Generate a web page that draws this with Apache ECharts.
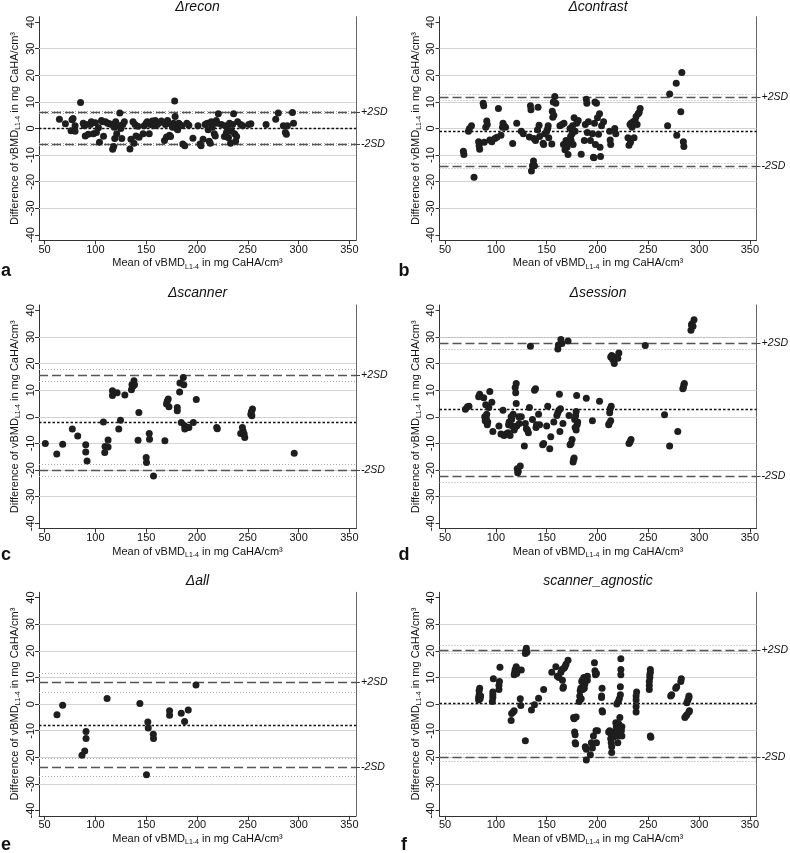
<!DOCTYPE html>
<html>
<head>
<meta charset="utf-8">
<script src="https://cdn.jsdelivr.net/npm/echarts@6/dist/echarts.min.js"></script>
<style>
html,body{margin:0;padding:0;background:#fff;}
#chart{width:790px;height:853px;}
</style>
</head>
<body>
<div id="chart"></div>
<script>
// ---------- tick labels / shared ----------
const xTickVals = [50, 100, 150, 200, 250, 300, 350];
const yTickVals = [-40, -30, -20, -10, 0, 10, 20, 30, 40];
const gridVals = [-30, -20, -10, 0, 10, 20, 30];
const panelTitles = ['\u0394recon', '\u0394contrast', '\u0394scanner', '\u0394session', '\u0394all', 'scanner_agnostic'];
const panelLetters = ['a', 'b', 'c', 'd', 'e', 'f'];
const limitLabels = ['+2SD', '-2SD'];

// ---------- panel a: Δrecon ----------
const reconMean = 0.2;
const reconLoA = [-5.9, 6.0];
const reconCI = [-6.2, -5.6, 5.7, 6.3];
const reconPts = [
[64.6,3.5],[70.5,1.8],[76,-0.8],[77,3.3],[78,3.8],[80,1],[80,-1],[85.4,9.8],[88,2],[89,1],[90,-2.8],[91,1.5],[93,-2.2],[95,1.5],[96,2.5],[98,-2],[100,2.2],[101,-1.5],[103,0.3],[104,-5.2],[106,3],[107,2.5],[108,-2.9],[110,2.5],[112,2],[114,1.8],[116,1.5],[117,-7.8],[118,-6.8],[118.5,0.5],[119,-3.8],[120,2.5],[121,-2],[122,1],[123,1],[124,5.8],[125,0],[126,-3.8],[127,1.5],[128.5,2.5],[134,-7.7],[135,-4],[137,2.5],[138,-5.5],[139,1.5],[140,-2.8],[141.7,0.8],[143,-3.3],[147,-2],[148,1],[150,2],[151,2.5],[153,-2],[154,1.5],[156,2.8],[157,2],[158,1],[159,3],[161,1.5],[163,2.2],[165,2.8],[168,-4.5],[169,1.5],[170,-3.2],[171,3],[172,2],[173,-2.5],[174,-3],[175,1.5],[176,0.5],[177,2],[178,10.3],[178.5,4.5],[179,1],[180,0],[181,-0.5],[182,2],[183,1.5],[185,1],[186,-5.8],[188,-6.5],[190,2],[192,1.2],[196,-3.7],[201,1],[203,-5.8],[204,-6.5],[206,-4],[208,1.5],[210,2],[211,-0.5],[212,-4.8],[213,-5.5],[214,2.5],[215,0.5],[217,-2],[218,-2.8],[219,3],[220,2],[221,5.5],[224,1.5],[227,-3],[228,1],[229,-1.5],[230,0],[231,-3.5],[232,2],[233,-5.5],[234,-1],[235,1.5],[236,5.5],[237,-2],[238,-4.8],[239,-3],[240,2.5],[243,1.5],[245,1],[251,1.5],[253,1.8],[268,1.5],[277.5,3.5],[280,5.8],[285,1],[287,-1.5],[288,-2.2],[289,1],[294,6],[295,2]
];

// ---------- panel b: Δcontrast ----------
const contrastMean = -1.2;
const contrastLoA = [-14.0, 11.7];
const contrastCI = [-15.0, -12.9, 10.6, 12.8];
const contrastPts = [
[68,-8.5],[68.5,-9.8],[73,-1],[74,0],[76,1],[78.5,-18.3],[83,-5],[83.5,-6.5],[84,-7.8],[87.5,9.5],[88,8.5],[88.5,-5.2],[90,0.5],[91,2.8],[91.5,1.5],[94,-4.3],[96,-5],[99,-3.8],[101,-3.3],[102.5,7.5],[105,-2.5],[106.5,0.5],[107,2],[108,1],[109.5,0.5],[116.5,-5.6],[120.5,2],[125,-1],[127,-2],[133,-3.2],[134,8.5],[134.5,7],[135,-16],[136,-14],[137,-12.2],[137.5,-3.8],[138,-14],[139,-4.5],[141,-0.5],[141.5,8],[142.5,1.2],[143,-3],[146.5,-5.5],[147,-6],[148,-2],[150,-1],[151,0],[151.5,1],[152,-3.5],[155,-5.8],[155.5,6.5],[156,4.2],[156.5,10],[157,5],[158,12],[159,9.5],[163,1],[165,1.5],[166.5,-6],[167,2],[168,-8],[169,-4.5],[170,-7],[171,-9.8],[172,-5],[173,0],[173.5,-3],[174,-4.5],[175,-2],[175.5,1],[176,-6],[177,4],[178,-1],[179.5,2],[181,3],[184,-9.7],[187,-4.5],[188,1.5],[189,11],[189.5,9.5],[190,-1.5],[191,2.5],[193,-4.5],[195,-2],[196,-10.8],[196.5,-11],[197,2],[197.5,10],[198,-6],[199,9.5],[200,4],[201,-2.2],[202,5.5],[202.5,-7],[203,-10.5],[204,1],[206,2.5],[212,-1],[212.5,-4.3],[213,-6],[217,0],[218,-2],[230,-3.5],[231,-6.3],[232,1.5],[232.5,-5.2],[233,2],[234,0.5],[235,2.5],[236,-3.5],[237,3],[238,4.5],[239,1.5],[240,5.5],[241,6],[242,7.5],[269,1],[271,13],[277.5,17],[278,-2.5],[282,6.3],[283,21],[284.5,-5],[285,-6.8]
];

// ---------- panel c: Δscanner ----------
const scannerMean = -2.1;
const scannerLoA = [-20.1, 15.7];
const scannerCI = [-22.4, -17.8, 13.5, 18.0];
const scannerPts = [
[50.7,-10],[62,-14],[67.8,-10.3],[77.3,-4.6],[82.6,-7.2],[90.5,-10.5],[90.5,-13.2],[91.8,-16.6],[107.9,-2],[109.5,-11.2],[109.2,-13.4],[112.5,-8.7],[112.5,-11.3],[116.8,9.8],[116.8,8],[121.4,9],[123,-4.6],[124.7,-1.3],[129,8.2],[135.5,10.2],[136,12],[137,11.5],[138,13.5],[138.5,12],[142.8,1.6],[142,-8.8],[150,-15.3],[150.3,-17.2],[153,-6.3],[153.3,-8.4],[157.2,-22.2],[168.4,-9],[170,4.8],[170.7,5.8],[171.7,6.7],[172.4,3.8],[180.6,2.3],[180.6,3.5],[182.9,9.3],[183.2,12.7],[184.5,-2.1],[186.5,14.8],[187,12],[187.8,-3.4],[188,-4.6],[190.5,-4],[192,-4],[196.4,-2.1],[199.3,6.5],[219.4,-4],[220,-4.5],[243,-6.3],[244.7,-4],[245.4,-5.3],[246.4,-6.5],[247,-7.8],[253,1],[253.6,2],[254.6,2.9],[254,0.4],[295.7,-13.7]
];

// ---------- panel d: Δsession ----------
const sessionMean = 2.7;
const sessionLoA = [-22.2, 27.6];
const sessionCI = [-24.5, -20.0, 25.4, 29.9];
const sessionPts = [
[70,2.8],[72,3.8],[73.5,4],[83,7.5],[84,8.5],[88,7.2],[89,0],[89.5,-1.5],[90,4.5],[90.5,-0.5],[91,1],[91.5,-3],[92,-2],[93,3.5],[94,9.5],[96,5.5],[97,-5.5],[103,-3.5],[105,-6.5],[107,2.5],[108,-7],[110,-6.5],[112,-6],[112.5,-3],[113,-2],[114,-7],[115,0],[115.5,-1],[116,-3.5],[117,1],[118,-5],[118.5,-4],[119,11],[119.5,9],[120,12.5],[120,5],[120.5,-3.5],[121,-19.5],[121.5,-21],[122,-20.5],[122.5,0],[123,-2.5],[124,-18.5],[125,0],[128,-11],[129,-2.5],[130,-4.5],[131,-5],[132,-6],[133,3.5],[134,26.5],[136,-1],[138,10],[139,10.5],[139.5,-4],[140,-3],[142,1],[143,-3],[146,-10.5],[147,-10],[150,-3.5],[151,4],[153,-12],[154,-7.5],[157,-2],[160,0.5],[161,25.5],[161,1.5],[161.5,27],[162,2.5],[162.5,8.5],[163,-5.5],[163.5,3],[164,29],[165,27.5],[166,-2.5],[171,28.5],[172,0.5],[173,-10.5],[174,-10],[175,-8.5],[176,-17],[176.5,-16],[177,-15.5],[177.5,-1],[178,-4],[178.5,0.5],[179,2],[179,-5],[179.5,8],[180,-3],[180.5,-2],[189,7],[195,-1.5],[202,5.8],[211,-3],[211.5,-2.5],[212,1.5],[212.5,3],[213,-1.5],[213,22.5],[213.5,4],[214,23],[215,21.5],[216,22.5],[216.5,20],[217,22],[220,22],[221,24],[231,-10],[232,-9.5],[233,-8.5],[247,26.8],[266,0.8],[271,-11],[279,-5.5],[284,10.5],[284.5,11],[285,12],[285.5,12.5],[292,32.5],[292.5,34.5],[293,35],[294,34],[295,36.5]
];

// ---------- panel e: Δall ----------
const allMean = -7.8;
const allLoA = [-23.7, 8.2];
const allCI = [-27.2, -20.2, 4.6, 11.6];
const allPts = [
[62.2,-4],[67.8,-0.4],[86.8,-19.2],[89.5,-17.6],[90.8,-10.3],[90.8,-12.9],[111.5,2.1],[143.8,0.2],[151.6,-6.7],[152,-9],[150.3,-26.5],[157,-11.3],[157.2,-12.9],[173,-2.5],[173,-4.2],[184.5,-3.4],[187.8,-6.5],[191.4,-2.2],[199,7.2]
];

// ---------- panel f: scanner_agnostic ----------
const agnosticMean = 0.4;
const agnosticLoA = [-20.0, 20.4];
const agnosticCI = [-21.4, -18.5, 19.1, 22.0];
const agnosticPts = [
[83,1.5],[83,2.5],[83.5,3.5],[83.5,5],[84,6],[84.5,2],[85,3],
[96.5,1],[97,2.5],[97,3.5],[97,4.5],[97.5,9.5],
[103,5.5],[103,7],[103.5,8.5],[104,13.8],
[115,-6.2],[115.5,-3.5],[117,-3],[118,-2.5],[118,11],[118.5,12],[119,13],[120,14],[120.5,11.5],[121,13],
[124,2],[124.5,-0.5],[125,12.8],[129,-13.8],[129,19],[129.5,20],[130,21],[130.5,19.5],[135,-2.2],[138,-0.2],[142,2.2],[147,5.5],[155,12],[159,14],[160.5,10.5],[162,10],[164,12],[165,13],[165.5,9],[166,6],[166.5,6.5],[167,13.5],[168,14],[169,15],[171,16.5],
[176.5,-5],[177,-5.5],[177.5,-10.5],[178,-11.5],[178,-14.5],[178.5,-15],[179,-4.8],
[182,1],[182.5,3],[183,5],[183.5,6],[184,2],[184.5,8.5],[185,9],[185.5,5.5],[186,7],[186.5,10],[187,6],[187.5,7.5],[188,-16],[188.5,-16.5],[189,-17],[189,-21],[190,9],[190,10.5],
[193,-19],[194,-14.5],[195,-16.5],[196,-12],[197,15.5],[197.5,12.5],[198,11],[198.5,-10],[199,-14.5],[199,11.5],[200,-10],
[204,2.5],[204,3],[204.5,6],[204.5,-2.5],[205,-3],
[211,-10.5],[212,-10],[213,-11],[213,-13],[213.5,-14.5],[214,-16],[214,-18.2],[215,-10.5],[215.5,-12.5],
[218,-7],[218.5,-8.5],[219,0],[219.5,-10.5],[220,-12],[220,-14.5],[220.5,1],[221,-9],[221,-7.5],[221.5,2],[222,-5],[222,-11],[222.5,3.5],[222.5,6.5],[223,11],[223,13],[223,17],[223.5,-10],[224,-12],[224,-8.5],
[238,-3],[238,-1],[238,1.5],[238,3],[238.5,4.5],
[251,5.5],[251,7],[251,8.5],[251.5,10],[251.5,11],[252,12],[252,13],[252,-12],[252.5,-12.5],
[272,3],[273,3.5],[277,6],[278,6.5],[282,8.5],[282.5,9.5],[286,-5],[287,-4.5],[288,-4],[288,0.5],[289,1.5],[290,2.5],[290,-3],[290.5,-2.5],[290,3]
];

// ---------- assemble ----------
const panels = [
  {pts: reconPts, mean: reconMean, loa: reconLoA, ci: reconCI},
  {pts: contrastPts, mean: contrastMean, loa: contrastLoA, ci: contrastCI},
  {pts: scannerPts, mean: scannerMean, loa: scannerLoA, ci: scannerCI},
  {pts: sessionPts, mean: sessionMean, loa: sessionLoA, ci: sessionCI},
  {pts: allPts, mean: allMean, loa: allLoA, ci: allCI},
  {pts: agnosticPts, mean: agnosticMean, loa: agnosticLoA, ci: agnosticCI}
];

const FONT = '"Liberation Sans", Arial, Helvetica, sans-serif';
const colLeft = [39, 439.5];
const rowTop = [16.7, 305, 592.3];
const PW = 317, PH = 223.6;
const titleY = [6.7, 293.3, 581];
const letterY = [271, 555, 845];
const letterX = [6, 404];

const option = {
  animation: false,
  backgroundColor: '#ffffff',
  grid: [], xAxis: [], yAxis: [], series: [], graphic: []
};

panels.forEach((p, k) => {
  const col = k % 2, row = Math.floor(k / 2);
  const L = colLeft[col], T = rowTop[row];
  option.grid.push({left: L, top: T, width: PW, height: PH, containLabel: false, outerBoundsMode: 'none'});
  option.xAxis.push({
    type: 'value', gridIndex: k, min: 44.5, max: 356.5,
    axisLine: {show: true, onZero: false, lineStyle: {color: '#333', width: 1}},
    axisTick: {show: true, length: 4, customValues: xTickVals, lineStyle: {color: '#333', width: 1}},
    axisLabel: {customValues: xTickVals, fontSize: 11, color: '#111', margin: 4, fontFamily: FONT},
    splitLine: {show: false},
    name: 'Mean of vBMD{sub|L1-4} in mg CaHA/cm\u00b3',
    nameLocation: 'middle', nameGap: 16,
    nameTextStyle: {fontSize: 11, color: '#111', fontFamily: FONT,
      rich: {sub: {fontSize: 7, color: '#111', fontFamily: FONT, verticalAlign: 'bottom', lineHeight: 14}}}
  });
  option.yAxis.push({
    type: 'value', gridIndex: k, min: -42, max: 42, position: 'left',
    axisLine: {show: true, onZero: false, lineStyle: {color: '#333', width: 1}},
    axisTick: {show: true, length: 4, customValues: yTickVals, lineStyle: {color: '#333', width: 1}},
    axisLabel: {customValues: yTickVals, rotate: 90, fontSize: 11, color: '#111', margin: 3, fontFamily: FONT},
    splitLine: {show: false},
    name: 'Difference of vBMD{sub|L1-4} in mg CaHA/cm\u00b3',
    nameLocation: 'middle', nameRotate: 90, nameGap: 17,
    nameTextStyle: {fontSize: 11, color: '#111', fontFamily: FONT,
      rich: {sub: {fontSize: 7, color: '#111', fontFamily: FONT, verticalAlign: 'bottom', lineHeight: 14}}}
  });
  const limVals = [p.loa[1], p.loa[0]];
  option.yAxis.push({
    type: 'value', gridIndex: k, min: -42, max: 42, position: 'right',
    axisLine: {show: true, onZero: false, lineStyle: {color: '#666', width: 1}},
    axisTick: {show: true, length: 4, customValues: limVals, lineStyle: {color: '#444', width: 1}},
    axisLabel: {customValues: limVals, fontSize: 10.5, fontStyle: 'italic', color: '#111', margin: 5, fontFamily: FONT,
      formatter: v => (v === p.loa[1] ? limitLabels[0] : limitLabels[1])},
    splitLine: {show: false}
  });
  const ml = [];
  gridVals.forEach(v => ml.push({yAxis: v, lineStyle: {color: '#d3d3d3', width: 1, type: 'solid'}}));
  p.ci.forEach(v => ml.push({yAxis: v, lineStyle: {color: '#a8a8a8', width: 1, type: [1, 2]}}));
  p.loa.forEach(v => ml.push({yAxis: v, lineStyle: {color: '#555', width: 1.3, type: [9, 4]}}));
  ml.push({yAxis: p.mean, lineStyle: {color: '#111', width: 1.3, type: [2.5, 2]}});
  option.series.push({
    type: 'scatter', xAxisIndex: k, yAxisIndex: 2 * k, data: p.pts,
    symbolSize: 7, itemStyle: {color: '#1e1e1e', opacity: 1}, z: 3, silent: true,
    markLine: {silent: true, z: 1, symbol: ['none', 'none'], label: {show: false},
      emphasis: {disabled: true}, animation: false, data: ml}
  });
  option.graphic.push({
    type: 'text', x: L + PW / 2, y: titleY[row], silent: true,
    style: {text: panelTitles[k], fill: '#111', font: 'italic 14px ' + FONT,
      align: 'center', verticalAlign: 'middle', textAlign: 'center', textVerticalAlign: 'middle'}
  });
  option.graphic.push({
    type: 'text', x: letterX[col], y: letterY[row], silent: true,
    style: {text: panelLetters[k], fill: '#111', font: 'bold 18px ' + FONT,
      align: 'center', verticalAlign: 'middle', textAlign: 'center', textVerticalAlign: 'middle'}
  });
});

const chart = echarts.init(document.getElementById('chart'), null, {renderer: 'canvas'});
chart.setOption(option);
</script>
</body>
</html>
